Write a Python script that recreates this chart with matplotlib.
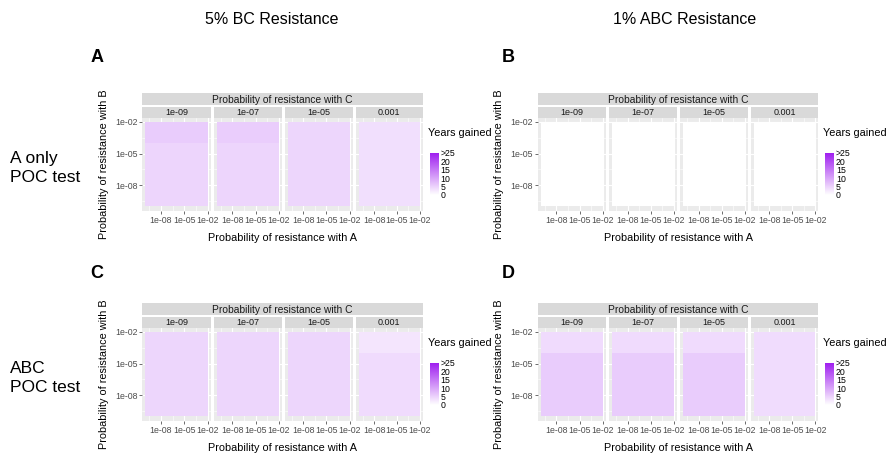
import numpy as np
import matplotlib
matplotlib.use("Agg")
import matplotlib.pyplot as plt
from matplotlib.colors import LinearSegmentedColormap

plt.rcParams['font.family'] = ['Liberation Sans', 'DejaVu Sans']

W, H = 886, 457

# facet columns: probability of resistance with C
prob_c_labels = ["1e-09", "1e-07", "1e-05", "0.001"]
# tile edges for probability of resistance with A and B
a_edges = [1e-10, 1e-2]
b_edges = [1e-10, 1e-4, 1e-2]
tick_vals = [1e-8, 1e-5, 1e-2]
tick_labels = ["1e-08", "1e-05", "1e-02"]

# years gained per facet: B below 1e-4, B above 1e-4
a_only_bc_low = [4.7, 4.7, 4.6, 3.7]
a_only_bc_high = [5.7, 5.6, 4.6, 3.7]
a_only_abc_low = [0.0, 0.0, 0.0, 0.0]
a_only_abc_high = [0.0, 0.0, 0.0, 0.0]
abc_bc_low = [4.6, 4.6, 4.6, 4.1]
abc_bc_high = [4.6, 4.6, 4.6, 3.0]
abc_abc_low = [5.7, 5.7, 5.7, 4.0]
abc_abc_high = [4.1, 4.1, 4.1, 4.0]

legend_ticks = [0, 5, 10, 15, 20, 25]
legend_labels = ["0", "5", "10", "15", "20", ">25"]

cmap = LinearSegmentedColormap.from_list("yg", ["#FFFFFF", "#A020F0"])

fig = plt.figure(figsize=(W / 100, H / 100), dpi=100)


def px_axes(x0, y0, x1, y1):
    return fig.add_axes([x0 / W, 1 - y1 / H, (x1 - x0) / W, (y1 - y0) / H])


def ftext(x, y, s, **kw):
    fig.text(x / W, 1 - y / H, s, **kw)


def draw_panel(ox, oy, low, high):
    facet_x = [(142.3, 210.7), (214.0, 281.7), (284.7, 352.7), (355.7, 423.0)]
    # outer strip
    sax = px_axes(ox + 142.3, oy + 93.3, ox + 423.0, oy + 105.3)
    sax.set_facecolor("#D9D9D9")
    sax.set_xticks([]); sax.set_yticks([])
    for s in sax.spines.values():
        s.set_visible(False)
    sax.text(0.5, 0.45, "Probability of resistance with C", ha="center", va="center",
             fontsize=7.4, color="#1A1A1A", transform=sax.transAxes)
    lo_pad = 10 ** (-10 - 0.4)
    hi_pad = 10 ** (-2 + 0.4)
    for i, (x0, x1) in enumerate(facet_x):
        st = px_axes(ox + x0, oy + 106.7, ox + x1, oy + 117.7)
        st.set_facecolor("#D9D9D9")
        st.set_xticks([]); st.set_yticks([])
        for s in st.spines.values():
            s.set_visible(False)
        st.text(0.5, 0.45, prob_c_labels[i], ha="center", va="center",
                fontsize=6.5, color="#1A1A1A", transform=st.transAxes)

        ax = px_axes(ox + x0, oy + 117.7, ox + x1, oy + 210.7)
        ax.set_facecolor("#EBEBEB")
        ax.set_xscale("log"); ax.set_yscale("log")
        z = np.array([[low[i]], [high[i]]])
        ax.pcolormesh(a_edges, b_edges, z, cmap=cmap, vmin=0, vmax=25, zorder=2)
        ax.set_xlim(lo_pad, hi_pad); ax.set_ylim(lo_pad, hi_pad)
        ax.set_xticks(tick_vals)
        ax.set_yticks(tick_vals)
        ax.set_xticks([10 ** -9.5, 10 ** -6.5, 10 ** -3.5], minor=True)
        ax.set_yticks([10 ** -9.5, 10 ** -6.5, 10 ** -3.5], minor=True)
        ax.set_xticklabels(tick_labels)
        ax.set_yticklabels(tick_labels if i == 0 else [])
        ax.set_xticklabels([], minor=True); ax.set_yticklabels([], minor=True)
        ax.grid(True, which="major", color="white", linewidth=0.8, zorder=1)
        ax.grid(True, which="minor", color="white", linewidth=0.4, zorder=1)
        ax.set_axisbelow(True)
        ax.tick_params(which="major", length=2, width=0.5, color="#333333",
                       labelsize=6.3, labelcolor="#4D4D4D", pad=1.5)
        ax.tick_params(which="minor", length=0)
        if i > 0:
            ax.tick_params(axis="y", which="major", length=0)
        for s in ax.spines.values():
            s.set_visible(False)

    ftext(ox + 104, oy + 164, "Probability of resistance with B", rotation=90,
          ha="center", va="center", fontsize=7.8, color="black")
    ftext(ox + 282.6, oy + 238, "Probability of resistance with A",
          ha="center", va="center", fontsize=7.8, color="black")

    # colourbar legend
    ftext(ox + 428, oy + 133, "Years gained", ha="left", va="center",
          fontsize=7.8, color="black")
    cax = px_axes(ox + 430, oy + 153, ox + 438.5, oy + 195)
    grad = np.linspace(0, 25, 200).reshape(-1, 1)
    cax.imshow(grad, cmap=cmap, vmin=0, vmax=25, aspect="auto", origin="lower",
               extent=[0, 1, 0, 25])
    cax.set_xticks([])
    cax.yaxis.tick_right()
    cax.set_yticks(legend_ticks)
    cax.set_yticklabels(legend_labels)
    cax.tick_params(axis="y", length=0, labelsize=6.3, labelcolor="black", pad=1.5)
    for s in cax.spines.values():
        s.set_visible(False)


draw_panel(0, 0, a_only_bc_low, a_only_bc_high)
draw_panel(395.4, 0, a_only_abc_low, a_only_abc_high)
draw_panel(0, 210, abc_bc_low, abc_bc_high)
draw_panel(395.4, 210, abc_abc_low, abc_abc_high)

ftext(272, 20, "5% BC Resistance", ha="center", va="center", fontsize=11.5)
ftext(685, 20, "1% ABC Resistance", ha="center", va="center", fontsize=11.5)
for letter, x, y in [("A", 97, 57), ("B", 508, 57), ("C", 97, 273), ("D", 508, 273)]:
    ftext(x, y, letter, ha="center", va="center", fontsize=13, fontweight="bold")
ftext(10, 168, "A only\nPOC test", ha="left", va="center", fontsize=12.5,
      linespacing=1.35)
ftext(10, 378, "ABC\nPOC test", ha="left", va="center", fontsize=12.5,
      linespacing=1.35)

fig.savefig("out.png", dpi=100)
